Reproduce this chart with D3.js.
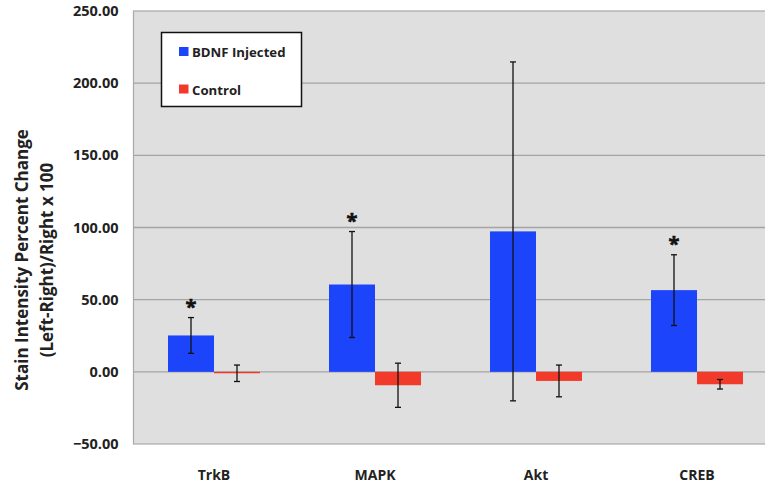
<!DOCTYPE html>
<html><head><meta charset="utf-8">
<script src="https://cdn.jsdelivr.net/npm/d3@7"></script>
<style>body{margin:0;background:#fff;overflow:hidden}svg{display:block}text{font-family:"Open Sans",sans-serif;font-weight:bold}</style>
</head><body>
<svg id="c" width="765" height="487"></svg>
<script>
const categories = ["TrkB", "MAPK", "Akt", "CREB"];
const seriesNames = ["BDNF Injected", "Control"];
const bdnf = [25.2, 60.5, 97.3, 56.6];
const bdnfErr = [12.4, 36.7, 117.4, 24.5];
const control = [-1.0, -9.3, -6.3, -8.6];
const controlErr = [5.7, 15.3, 11.0, 3.3];
const significant = [true, true, false, true];
const yTicks = [-50, 0, 50, 100, 150, 200, 250];
const colors = ["#1b44fb", "#f23a2a"];

const FONT = '"Open Sans",sans-serif';
const svg = d3.select("#c");
const pLeft = 133.5, pRight = 777.5, pTop = 11, pBottom = 444;
const x = d3.scaleBand().domain(categories).range([pLeft, pRight]).paddingInner(0).paddingOuter(0);
const y = d3.scaleLinear().domain([-50, 250]).range([pBottom, pTop]);
const groupW = x.bandwidth() / 3.5 * 2;
const x1 = d3.scaleBand().domain([0, 1]).range([0, groupW]);

svg.append("rect").attr("x", pLeft).attr("y", pTop).attr("width", pRight - pLeft).attr("height", pBottom - pTop)
  .attr("fill", "#dfdfdf").attr("stroke", "#a8a8a8").attr("stroke-width", 1.2);

const grid = svg.append("g");
grid.selectAll("line").data(yTicks.filter(t => t > -50 && t < 250)).join("line")
  .attr("x1", pLeft).attr("x2", pRight).attr("y1", d => y(d)).attr("y2", d => y(d))
  .attr("stroke", "#a4a4a4").attr("stroke-width", 1.3);

const yAxis = d3.axisLeft(y).tickValues(yTicks).tickFormat(d3.format(".2f")).tickSize(0).tickPadding(15);
const ya = svg.append("g").attr("transform", `translate(${pLeft},0)`).call(yAxis);
ya.select(".domain").remove();
ya.selectAll("text").attr("font-size", 14.5).attr("fill", "#222").style("font-family", FONT).style("font-weight", "bold");

const data = [bdnf, control];
const errs = [bdnfErr, controlErr];
const g = svg.append("g");
categories.forEach((c, i) => {
  const gx = x(c) + (x.bandwidth() - groupW) / 2;
  [0, 1].forEach(s => {
    const v = data[s][i], e = errs[s][i];
    const bx = gx + x1(s);
    g.append("rect").attr("x", bx).attr("width", x1.bandwidth())
      .attr("y", y(Math.max(0, v))).attr("height", Math.abs(y(v) - y(0)))
      .attr("fill", colors[s]);
    const cx = bx + x1.bandwidth() / 2;
    const eg = g.append("g").attr("stroke", "#111").attr("stroke-width", 1.3);
    eg.append("line").attr("x1", cx).attr("x2", cx).attr("y1", y(v + e)).attr("y2", y(v - e));
    eg.append("line").attr("x1", cx - 3).attr("x2", cx + 3).attr("y1", y(v + e)).attr("y2", y(v + e));
    eg.append("line").attr("x1", cx - 3).attr("x2", cx + 3).attr("y1", y(v - e)).attr("y2", y(v - e));
    if (s === 0 && significant[i]) {
      g.append("text").attr("x", cx).attr("y", y(v + e) - 4).attr("text-anchor", "middle")
        .attr("font-size", 20).attr("fill", "#111").attr("stroke", "#111").attr("stroke-width", 0.6).text("*");
    }
  });
});

const xa = svg.append("g").attr("transform", `translate(0,${pBottom})`)
  .call(d3.axisBottom(x).tickSize(0).tickPadding(26));
xa.select(".domain").remove();
xa.selectAll("text").attr("font-size", 14).attr("fill", "#222").style("font-family", FONT).style("font-weight", "bold");

const yt = svg.append("text").attr("transform", "translate(28,260) rotate(-90)").attr("text-anchor", "middle")
  .attr("font-size", 17).attr("fill", "#222");
yt.append("tspan").attr("x", 0).attr("dy", 0).text("Stain Intensity Percent Change");
yt.append("tspan").attr("x", 0).attr("dy", 25).text("(Left-Right)/Right x 100");

const lg = svg.append("g");
lg.append("rect").attr("x", 161.5).attr("y", 32.5).attr("width", 140).attr("height", 74)
  .attr("fill", "#fff").attr("stroke", "#111").attr("stroke-width", 1.5);
seriesNames.forEach((n, i) => {
  const yy = 47 + i * 37.5;
  lg.append("rect").attr("x", 179).attr("y", yy).attr("width", 9.5).attr("height", 9).attr("fill", colors[i]);
  lg.append("text").attr("x", 192).attr("y", yy + 10).attr("font-size", 13.2).attr("fill", "#222").text(n);
});
</script>
</body></html>
